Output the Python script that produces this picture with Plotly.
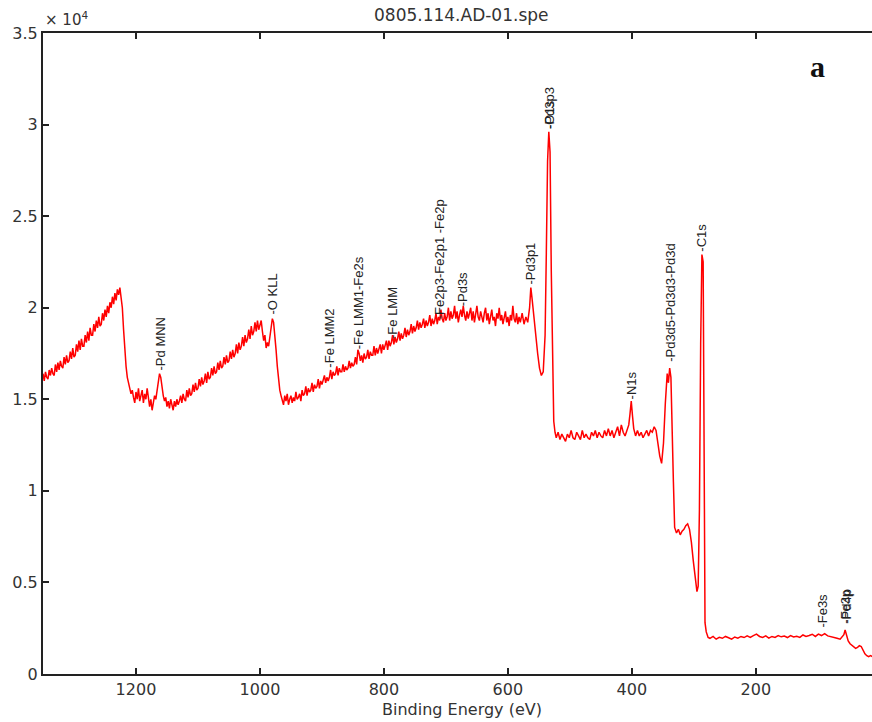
import plotly.graph_objects as go

# XPS survey scan, binding energy (eV) vs counts, split into spectral regions
region_high_be = [
    (1350, 16400), (1348, 16000), (1346, 16500), (1344, 16200), (1342, 16100),
    (1340, 16600), (1338, 16300), (1336, 16700), (1334, 16400), (1332, 16300),
    (1330, 16900), (1328, 16500), (1326, 17000), (1324, 16600), (1322, 17100),
    (1320, 16800), (1318, 16700), (1316, 17300), (1314, 16900), (1312, 17400),
    (1310, 17000), (1308, 17100), (1306, 17600), (1304, 17200), (1302, 17800),
    (1300, 17300), (1298, 17400), (1296, 18000), (1294, 17600), (1292, 18200),
    (1290, 17700), (1288, 18300), (1286, 17900), (1284, 17900), (1282, 18500),
    (1280, 18100), (1278, 18700), (1276, 18200), (1274, 18900), (1272, 18500),
    (1270, 18500), (1268, 19100), (1266, 18700), (1264, 19300), (1262, 18900),
    (1260, 19500), (1258, 19000), (1256, 19100), (1254, 19700), (1252, 19300),
    (1250, 19900), (1248, 19500), (1246, 20100), (1244, 19700), (1242, 20300),
    (1240, 20000), (1238, 20600), (1236, 20200), (1234, 20800), (1232, 20400),
    (1230, 21000), (1228, 20700), (1226, 21100), (1224, 20600), (1222, 20000),
    (1220, 18800), (1218, 17700), (1216, 16800), (1214, 16200), (1212, 15800),
    (1210, 15600), (1208, 15300),
]

region_pd_mnn = [
    (1206, 15500), (1204, 15100), (1202, 14800), (1200, 15400), (1198, 15000),
    (1196, 15600), (1194, 14900), (1192, 15200), (1190, 15500), (1188, 14800),
    (1186, 15300), (1184, 15000), (1182, 15600), (1180, 15100), (1178, 14600),
    (1176, 15000), (1174, 14400), (1172, 14800), (1170, 15200), (1168, 15000),
    (1166, 15500), (1164, 15900), (1162, 16400), (1160, 16200), (1158, 15600),
    (1156, 15200), (1154, 14900), (1152, 15100), (1150, 14600), (1148, 14900),
    (1146, 14500), (1144, 15000), (1142, 14700), (1140, 14400), (1138, 14900),
    (1136, 14600), (1134, 15000), (1132, 14700), (1130, 14900), (1128, 15200),
    (1126, 14800), (1124, 15300), (1122, 15000), (1120, 14900), (1118, 15500),
    (1116, 15100), (1114, 15600), (1112, 15200), (1110, 15300), (1108, 15800),
    (1106, 15400), (1104, 15900), (1102, 15500), (1100, 15600), (1098, 16100),
    (1096, 15700), (1094, 16200), (1092, 15800), (1090, 16000), (1088, 16400),
    (1086, 15900), (1084, 16500), (1082, 16100), (1080, 16200), (1078, 16700),
    (1076, 16300), (1074, 16800), (1072, 16400), (1070, 16500), (1068, 17000),
    (1066, 16600), (1064, 17100), (1062, 16700), (1060, 16800), (1058, 17300),
    (1056, 16900), (1054, 17400), (1052, 17000), (1050, 17100), (1048, 17600),
    (1046, 17200), (1044, 17700), (1042, 17300), (1040, 17500), (1038, 18000),
    (1036, 17500), (1034, 18100), (1032, 17700), (1030, 17900), (1028, 18400),
    (1026, 17900), (1024, 18500), (1022, 18100), (1020, 18300), (1018, 18800),
    (1016, 18300), (1014, 19000), (1012, 18500), (1010, 18700), (1008, 19200),
    (1006, 18700), (1004, 19300), (1002, 18800), (1000, 19000),
]

region_o_kll = [
    (998, 19300), (996, 18700), (994, 18200), (992, 18500), (990, 17800),
    (988, 18100), (986, 17900), (984, 18400), (982, 18900), (980, 19400),
    (978, 19200), (976, 18600), (974, 17700), (972, 16800), (970, 16000),
    (968, 15500), (966, 15200),
]

region_fe_pd3s = [
    (964, 15000), (962, 14700), (960, 15200), (958, 14900), (956, 15300),
    (954, 14700), (952, 15000), (950, 15200), (948, 14800), (946, 15100),
    (944, 14900), (942, 15400), (940, 15000), (938, 15100), (936, 15300),
    (934, 14900), (932, 15500), (930, 15200), (928, 15300), (926, 15700),
    (924, 15200), (922, 15600), (920, 15400), (918, 15500), (916, 15900),
    (914, 15400), (912, 15800), (910, 15600), (908, 15700), (906, 16100),
    (904, 15600), (902, 16000), (900, 15800), (898, 16000), (896, 16300),
    (894, 15900), (892, 16200), (890, 16000), (888, 16200), (886, 16600),
    (884, 16100), (882, 16500), (880, 16300), (878, 16400), (876, 16800),
    (874, 16300), (872, 16700), (870, 16500), (868, 16500), (866, 16900),
    (864, 16500), (862, 16800), (860, 16600), (858, 16700), (856, 17100),
    (854, 16700), (852, 17000), (850, 16800), (848, 16900), (846, 17300),
    (844, 16900), (842, 17700), (840, 17500), (838, 17100), (836, 17400),
    (834, 17000), (832, 17500), (830, 17200), (828, 17300), (826, 17700),
    (824, 17200), (822, 17600), (820, 17400), (818, 17400), (816, 17900),
    (814, 17400), (812, 17800), (810, 17500), (808, 17700), (806, 18000),
    (804, 17500), (802, 18000), (800, 17700), (798, 17900), (796, 18200),
    (794, 17700), (792, 18200), (790, 17900), (788, 18100), (786, 18500),
    (784, 18000), (782, 18400), (780, 18100), (778, 18300), (776, 18700),
    (774, 18200), (772, 18600), (770, 18300), (768, 18500), (766, 18900),
    (764, 18400), (762, 18800), (760, 18500), (758, 18700), (756, 19100),
    (754, 18600), (752, 19000), (750, 18700), (748, 18900), (746, 19300),
    (744, 18800), (742, 19200), (740, 18900), (738, 19100), (736, 19400),
    (734, 18900), (732, 19300), (730, 19000), (728, 19200), (726, 19600),
    (724, 19000), (722, 19400), (720, 19100), (718, 19300), (716, 19700),
    (714, 19100), (712, 19500), (710, 19300), (708, 19900), (706, 19400),
    (704, 19200), (702, 19700), (700, 19300), (698, 19500), (696, 20000),
    (694, 19300), (692, 19800), (690, 19400), (688, 19600), (686, 20100),
    (684, 19400), (682, 19800), (680, 19200), (678, 19600), (676, 19900),
    (674, 19500), (672, 20100), (670, 19600), (668, 19300), (666, 19800),
    (664, 19400), (662, 19700), (660, 20000), (658, 19300), (656, 19800),
    (654, 19200), (652, 19600), (650, 20100), (648, 19500), (646, 19300),
    (644, 19800), (642, 19400), (640, 19200), (638, 19700), (636, 20000),
    (634, 19300), (632, 19700), (630, 19100), (628, 19600), (626, 19900),
    (624, 19300), (622, 19500), (620, 19000), (618, 19700), (616, 19400),
    (614, 20000), (612, 19300), (610, 19600), (608, 19100), (606, 19500),
    (604, 19800), (602, 19200), (600, 19500), (598, 19000), (596, 19600),
    (594, 19300), (592, 20100), (590, 19400), (588, 19200), (586, 19700),
    (584, 19100), (582, 19500), (580, 19200),
]

region_pd3p = [
    (577, 19700), (574, 19100), (571, 19500), (568, 19200), (565, 20000),
    (563, 21100), (561, 20500), (558, 19400), (555, 18500), (552, 17500),
    (549, 16700), (546, 16300), (543, 16500), (540, 18500), (538, 23000),
    (536, 28000), (534, 29600), (532, 28500), (530, 22000), (528, 16500),
    (526, 13800), (524, 13200),
]

region_n1s = [
    (522, 12900), (519, 13200), (516, 12800), (513, 13100), (510, 12900),
    (507, 12700), (504, 13100), (501, 12900), (498, 13300), (495, 12900),
    (492, 12800), (489, 13200), (486, 13000), (483, 12800), (480, 13300),
    (477, 12900), (474, 13100), (471, 12900), (468, 12800), (465, 13200),
    (462, 13000), (459, 13300), (456, 12900), (453, 13200), (450, 13000),
    (447, 12900), (444, 13300), (441, 13000), (438, 13400), (435, 13000),
    (432, 13300), (429, 12900), (426, 13200), (423, 13500), (420, 13000),
    (417, 13600), (414, 13200), (411, 13000), (408, 13300), (405, 13600),
    (403, 14200), (401, 14900), (399, 14100), (397, 13400), (394, 13000),
    (391, 13300), (388, 13000), (385, 13200), (382, 12900), (379, 13100),
    (376, 13300), (373, 13000), (370, 13300), (367, 13200), (364, 13500),
    (361, 13300), (358, 12600), (355, 11900), (352, 11500), (349, 12600),
]

region_pd3d_c1s = [
    (346, 14800), (343, 16400), (341, 15900), (339, 16700), (337, 16200),
    (335, 14000), (333, 10500), (331, 8000), (328, 7700), (325, 7900),
    (322, 7600), (319, 7800), (316, 7900), (313, 8100), (310, 8200),
    (307, 7900), (304, 7200), (301, 6200), (298, 5200), (295, 4500),
    (293, 4800), (291, 9000), (289, 18000), (287, 22900), (285, 22500),
    (284, 14000), (283, 6000), (282, 2800), (280, 2300), (277, 2000),
]

region_low_be = [
    (274, 1950), (269, 2050), (264, 1900), (259, 2000), (254, 1950),
    (249, 2050), (244, 1980), (239, 1900), (234, 2020), (229, 1960),
    (224, 2050), (219, 1990), (214, 2080), (209, 2000), (204, 2100),
    (199, 2180), (194, 2050), (189, 2000), (184, 2080), (179, 1960),
    (174, 2050), (169, 2000), (164, 2100), (159, 2030), (154, 2070),
    (149, 1990), (144, 2100), (139, 2020), (134, 2060), (129, 2000),
    (124, 2130), (119, 2050), (114, 2100), (109, 2170), (104, 2050),
    (99, 2180), (94, 2100), (89, 2200), (84, 2080), (79, 2050),
    (74, 2000), (69, 1950), (64, 1900), (61, 2000), (58, 2150),
    (56, 2400), (54, 2200), (51, 1800), (48, 1650), (45, 1550),
    (42, 1450), (39, 1400), (36, 1450), (33, 1550), (30, 1500),
    (27, 1300), (24, 1100), (21, 1000), (18, 950), (15, 1000), (12, 950),
]

# Peak assignments: (label, binding energy, counts at label base)
peak_labels = [
    ("-Pd MNN", 1161, 16500),
    ("-O KLL", 979, 19600),
    ("-Fe LMM2", 887, 16700),
    ("-Fe LMM1-Fe2s", 842, 17700),
    ("-Fe LMM", 785, 18250),
    ("-Fe2p3-Fe2p1 -Fe2p", 710, 19300),
    ("-Pd3s", 673, 20000),
    ("-Pd3p1", 563, 21200),
    ("-Pd3p3", 534, 29700),
    ("-O1s", 533, 29700),
    ("-N1s", 401, 14950),
    ("-Pd3d5-Pd3d3-Pd3d", 339, 17000),
    ("-C1s", 287, 23000),
    ("-Fe3s", 92.6, 2500),
    ("-Fe3p", 56, 2700),
    ("-Pd4p", 55, 2700),
]

x_ticks = [200, 400, 600, 800, 1000, 1200]
y_ticks = [0, 5000, 10000, 15000, 20000, 25000, 30000, 35000]
y_tick_text = ["0", "0.5", "1", "1.5", "2", "2.5", "3", "3.5"]

spectrum = (region_high_be + region_pd_mnn + region_o_kll + region_fe_pd3s
            + region_pd3p + region_n1s + region_pd3d_c1s + region_low_be)
binding_energy = [p[0] for p in spectrum]
counts = [p[1] for p in spectrum]

axis_col = "#222222"
text_col = "#333333"
tick_font = dict(family="DejaVu Sans", size=16, color=text_col)
title_font = dict(family="DejaVu Sans", size=17, color=text_col)
xlabel_font = dict(family="DejaVu Sans", size=16, color=text_col)

fig = go.Figure()
fig.add_trace(go.Scatter(
    x=binding_energy, y=counts, mode="lines",
    line=dict(color="#ff0000", width=1.5),
    hoverinfo="skip", showlegend=False,
))

for text, be, cps in peak_labels:
    fig.add_annotation(
        x=be, y=cps, xref="x", yref="y", text=text, showarrow=False,
        textangle=-90, xanchor="center", yanchor="bottom", borderpad=0,
        font=dict(family="Liberation Sans", size=13, color="#222222"),
    )

fig.add_annotation(
    x=0.505, y=1, xref="paper", yref="paper", yshift=18,
    text="0805.114.AD-01.spe", showarrow=False,
    xanchor="center", yanchor="middle", font=title_font,
)
fig.add_annotation(
    x=0.0, y=1, xref="paper", yref="paper", yshift=2,
    text="× 10<sup>4</sup>", showarrow=False,
    xanchor="left", yanchor="bottom",
    font=dict(family="DejaVu Sans", size=15, color=text_col),
)
fig.add_annotation(
    x=0.505, y=0, xref="paper", yref="paper", yshift=-35,
    text="Binding Energy (eV)", showarrow=False,
    xanchor="center", yanchor="middle", font=xlabel_font,
)
fig.add_annotation(
    x=0.934, y=0.9485, xref="paper", yref="paper",
    text="<b>a</b>", showarrow=False, xanchor="center", yanchor="middle",
    font=dict(family="Liberation Serif", size=30, color="#111111"),
)

fig.update_xaxes(
    range=[1350, 12.6], tickvals=x_ticks, ticks="inside", ticklen=6,
    tickwidth=1.5, tickcolor=axis_col, showline=True, linecolor=axis_col,
    linewidth=2, mirror="ticks", showgrid=False, zeroline=False,
    tickfont=tick_font,
)
fig.update_yaxes(
    range=[0, 35000], tickvals=y_ticks, ticktext=y_tick_text, ticks="inside",
    ticklen=6, tickwidth=1.5, tickcolor=axis_col, showline=True,
    linecolor=axis_col, linewidth=2, mirror=False, showgrid=False,
    zeroline=False, tickfont=tick_font,
)
fig.update_layout(
    width=872, height=722,
    margin=dict(l=43, r=0, t=33, b=48),
    paper_bgcolor="white", plot_bgcolor="white",
)

fig.write_html("out.html")
